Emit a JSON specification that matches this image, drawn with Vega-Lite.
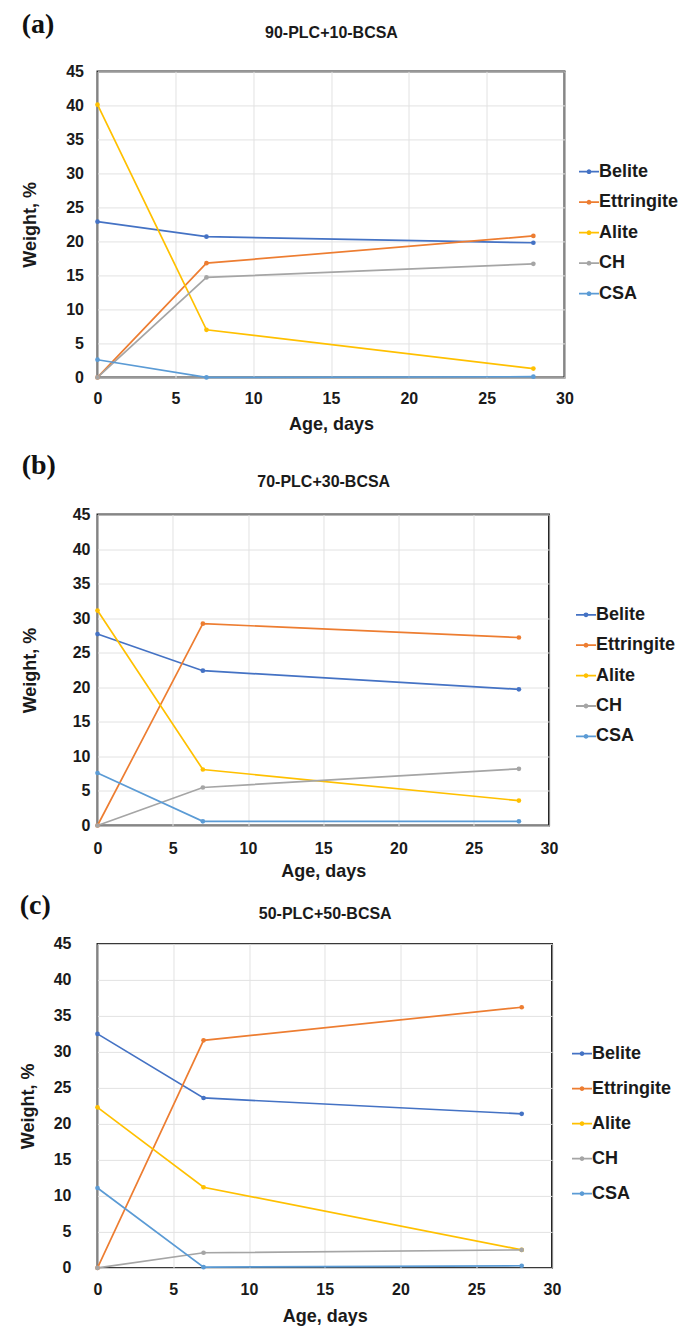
{
  "$schema": "https://vega.github.io/schema/vega-lite/v6.json",
  "padding": {"left": 18.5, "top": 9.4, "right": 0, "bottom": 0},
  "background": "white",
  "datasets": {
    "a": [
      {"day": 0, "weight": 22.9, "phase": "Belite"},
      {"day": 7, "weight": 20.7, "phase": "Belite"},
      {"day": 28, "weight": 19.8, "phase": "Belite"},
      {"day": 0, "weight": 0, "phase": "Ettringite"},
      {"day": 7, "weight": 16.8, "phase": "Ettringite"},
      {"day": 28, "weight": 20.8, "phase": "Ettringite"},
      {"day": 0, "weight": 40.1, "phase": "Alite"},
      {"day": 7, "weight": 7.0, "phase": "Alite"},
      {"day": 28, "weight": 1.3, "phase": "Alite"},
      {"day": 0, "weight": 0, "phase": "CH"},
      {"day": 7, "weight": 14.7, "phase": "CH"},
      {"day": 28, "weight": 16.7, "phase": "CH"},
      {"day": 0, "weight": 2.6, "phase": "CSA"},
      {"day": 7, "weight": 0, "phase": "CSA"},
      {"day": 28, "weight": 0.1, "phase": "CSA"}
    ],
    "b": [
      {"day": 0, "weight": 27.7, "phase": "Belite"},
      {"day": 7, "weight": 22.4, "phase": "Belite"},
      {"day": 28, "weight": 19.7, "phase": "Belite"},
      {"day": 0, "weight": 0, "phase": "Ettringite"},
      {"day": 7, "weight": 29.2, "phase": "Ettringite"},
      {"day": 28, "weight": 27.2, "phase": "Ettringite"},
      {"day": 0, "weight": 31.1, "phase": "Alite"},
      {"day": 7, "weight": 8.1, "phase": "Alite"},
      {"day": 28, "weight": 3.6, "phase": "Alite"},
      {"day": 0, "weight": 0, "phase": "CH"},
      {"day": 7, "weight": 5.5, "phase": "CH"},
      {"day": 28, "weight": 8.2, "phase": "CH"},
      {"day": 0, "weight": 7.6, "phase": "CSA"},
      {"day": 7, "weight": 0.6, "phase": "CSA"},
      {"day": 28, "weight": 0.6, "phase": "CSA"}
    ],
    "c": [
      {"day": 0, "weight": 32.5, "phase": "Belite"},
      {"day": 7, "weight": 23.6, "phase": "Belite"},
      {"day": 28, "weight": 21.4, "phase": "Belite"},
      {"day": 0, "weight": 0, "phase": "Ettringite"},
      {"day": 7, "weight": 31.6, "phase": "Ettringite"},
      {"day": 28, "weight": 36.2, "phase": "Ettringite"},
      {"day": 0, "weight": 22.3, "phase": "Alite"},
      {"day": 7, "weight": 11.2, "phase": "Alite"},
      {"day": 28, "weight": 2.5, "phase": "Alite"},
      {"day": 0, "weight": 0, "phase": "CH"},
      {"day": 7, "weight": 2.1, "phase": "CH"},
      {"day": 28, "weight": 2.5, "phase": "CH"},
      {"day": 0, "weight": 11.1, "phase": "CSA"},
      {"day": 7, "weight": 0.1, "phase": "CSA"},
      {"day": 28, "weight": 0.3, "phase": "CSA"}
    ]
  },
  "concat": [
    {
      "concat": [
        {
          "data": {"name": "a"},
          "title": {"text": "(a)", "anchor": "start", "frame": "bounds", "font": "Liberation Serif", "fontSize": 28, "fontWeight": "bold", "color": "#111111", "baseline": "alphabetic", "offset": -36.6},
          "width": 467,
          "height": 306,
          "layer": [
            {
              "mark": {"type": "line", "strokeWidth": 1.7, "point": {"filled": true, "size": 22}},
              "encoding": {
                "x": {"field": "day", "type": "quantitative", "scale": {"domain": [0, 30]}, "axis": {"values": [0, 5, 10, 15, 20, 25, 30], "title": "Age, days", "labelPadding": 13, "titlePadding": 9, "labelFlush": false}},
                "y": {"field": "weight", "type": "quantitative", "scale": {"domain": [0, 45]}, "axis": {"values": [0, 5, 10, 15, 20, 25, 30, 35, 40, 45], "title": "Weight, %", "labelPadding": 14, "titlePadding": 26}},
                "color": {"field": "phase", "type": "nominal", "sort": ["Belite", "Ettringite", "Alite", "CH", "CSA"], "scale": {"domain": ["Belite", "Ettringite", "Alite", "CH", "CSA"], "range": ["#4472C4", "#ED7D31", "#FFC000", "#A5A5A5", "#5B9BD5"]}, "legend": {"title": null, "orient": "none", "legendX": 480.5, "legendY": 89.3, "rowPadding": 10.5}}
              }
            },
            {
              "mark": {"type": "point", "opacity": 0},
              "encoding": {
                "x": {"field": "day", "type": "quantitative", "scale": {"domain": [0, 30]}, "axis": {"orient": "top", "title": "90-PLC+10-BCSA", "labels": false, "grid": false, "titleFontSize": 16, "titlePadding": 30.9}}
              }
            }
          ],
          "resolve": {"axis": {"x": "independent"}}
        },
        {
          "data": {"name": "b"},
          "title": {"text": "(b)", "anchor": "start", "frame": "bounds", "font": "Liberation Serif", "fontSize": 28, "fontWeight": "bold", "color": "#111111", "baseline": "alphabetic", "offset": -28.5},
          "width": 451.5,
          "height": 311,
          "layer": [
            {
              "mark": {"type": "line", "strokeWidth": 1.7, "point": {"filled": true, "size": 22}},
              "encoding": {
                "x": {"field": "day", "type": "quantitative", "scale": {"domain": [0, 30]}, "axis": {"values": [0, 5, 10, 15, 20, 25, 30], "title": "Age, days", "labelPadding": 15, "titlePadding": 6, "labelFlush": false}},
                "y": {"field": "weight", "type": "quantitative", "scale": {"domain": [0, 45]}, "axis": {"values": [0, 5, 10, 15, 20, 25, 30, 35, 40, 45], "title": "Weight, %", "labelPadding": 7.5, "titlePadding": 32.5}},
                "color": {"field": "phase", "type": "nominal", "sort": ["Belite", "Ettringite", "Alite", "CH", "CSA"], "scale": {"domain": ["Belite", "Ettringite", "Alite", "CH", "CSA"], "range": ["#4472C4", "#ED7D31", "#FFC000", "#A5A5A5", "#5B9BD5"]}, "legend": {"title": null, "orient": "none", "legendX": 477.5, "legendY": 89.3, "rowPadding": 10.4}}
              }
            },
            {
              "mark": {"type": "point", "opacity": 0},
              "encoding": {
                "x": {"field": "day", "type": "quantitative", "scale": {"domain": [0, 30]}, "axis": {"orient": "top", "title": "70-PLC+30-BCSA", "labels": false, "grid": false, "titleFontSize": 16, "titlePadding": 24.9}}
              }
            }
          ],
          "resolve": {"axis": {"x": "independent"}}
        }
      ],
      "columns": 1,
      "align": "none",
      "spacing": 16.1,
      "resolve": {"scale": {"color": "independent"}, "legend": {"color": "independent"}}
    },
    {
      "data": {"name": "c"},
      "title": {"text": "(c)", "anchor": "start", "frame": "bounds", "font": "Liberation Serif", "fontSize": 28, "fontWeight": "bold", "color": "#111111", "baseline": "alphabetic", "offset": -36},
      "width": 454.5,
      "height": 324,
      "layer": [
        {
          "mark": {"type": "line", "strokeWidth": 1.7, "point": {"filled": true, "size": 22}},
          "encoding": {
            "x": {"field": "day", "type": "quantitative", "scale": {"domain": [0, 30]}, "axis": {"values": [0, 5, 10, 15, 20, 25, 30], "title": "Age, days", "labelPadding": 14, "titlePadding": 10, "labelFlush": false}},
            "y": {"field": "weight", "type": "quantitative", "scale": {"domain": [0, 45]}, "axis": {"values": [0, 5, 10, 15, 20, 25, 30, 35, 40, 45], "title": "Weight, %", "labelPadding": 26.5, "titlePadding": 15.5}},
            "color": {"field": "phase", "type": "nominal", "sort": ["Belite", "Ettringite", "Alite", "CH", "CSA"], "scale": {"domain": ["Belite", "Ettringite", "Alite", "CH", "CSA"], "range": ["#4472C4", "#ED7D31", "#FFC000", "#A5A5A5", "#5B9BD5"]}, "legend": {"title": null, "orient": "none", "legendX": 473.5, "legendY": 98.7, "rowPadding": 15}}
          }
        },
        {
          "mark": {"type": "point", "opacity": 0},
          "encoding": {
            "x": {"field": "day", "type": "quantitative", "scale": {"domain": [0, 30]}, "axis": {"orient": "top", "title": "50-PLC+50-BCSA", "labels": false, "grid": false, "titleFontSize": 16, "titlePadding": 21.9}}
          }
        }
      ],
      "resolve": {"axis": {"x": "independent"}}
    }
  ],
  "columns": 1,
  "align": "none",
  "spacing": 8.5,
  "resolve": {"scale": {"color": "independent"}, "legend": {"color": "independent"}},
  "config": {
    "font": "Liberation Sans",
    "view": {"stroke": "#262626", "strokeWidth": 2},
    "axis": {"labelFont": "Liberation Sans", "labelFontSize": 16, "labelFontWeight": "bold", "labelColor": "#1a1a1a", "titleFont": "Liberation Sans", "titleFontSize": 18, "titleFontWeight": "bold", "titleColor": "#1a1a1a", "ticks": false, "domain": false, "gridColor": "#e2e2e2", "gridWidth": 1},
    "legend": {"labelFont": "Liberation Sans", "labelFontSize": 18, "labelFontWeight": "bold", "labelColor": "#1a1a1a", "padding": 0, "labelOffset": -1, "symbolSize": 400, "symbolStrokeWidth": 1.8, "symbolType": "M-1,0H1M-0.15,0A0.15,0.15,0,1,1,0.15,0A0.15,0.15,0,1,1,-0.15,0Z"}
  }
}
